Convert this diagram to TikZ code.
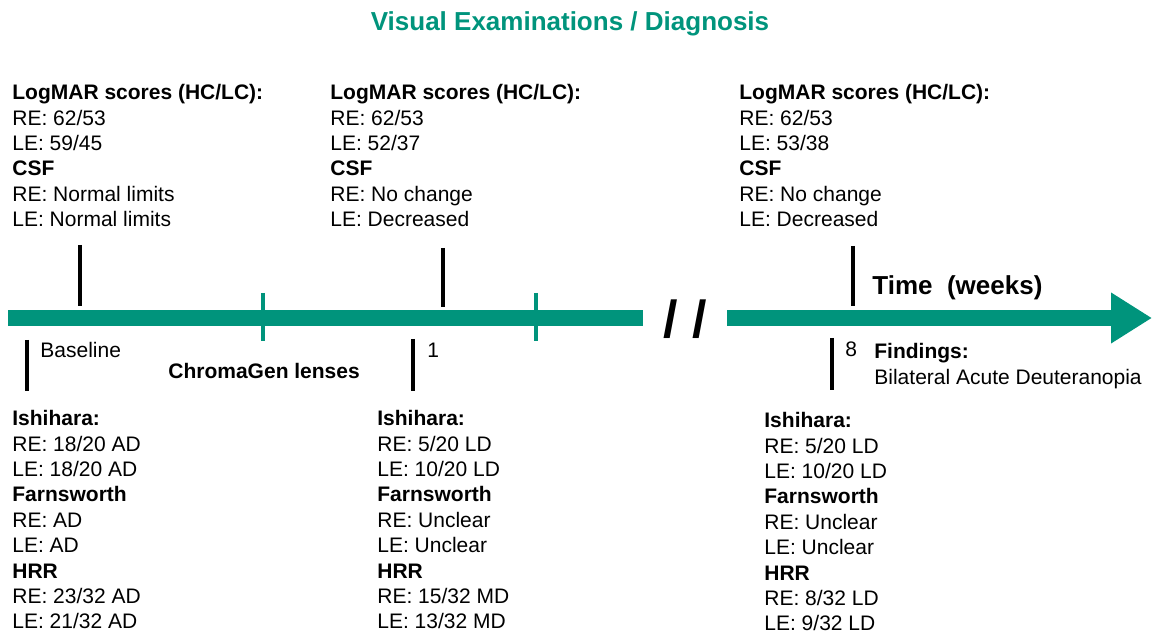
\documentclass[tikz,border=0pt]{standalone}
\usepackage{fontspec}
\setmainfont{Liberation Sans}
\usepackage{tikz}
\usetikzlibrary{positioning,arrows.meta}
\definecolor{barteal}{RGB}{0,148,124}

\begin{document}
\begin{tikzpicture}[x=0.5pt, y=-0.5pt,
txtblock/.style={anchor=north west, align=left, inner sep=0pt, font=\fontsize{10.5}{12.7}\selectfont},
smalllabel/.style={anchor=west, inner sep=0pt, font=\fontsize{10.5}{12.7}\selectfont},
blacktick/.style={draw=black, line width=2pt},
greentick/.style={draw=barteal, line width=1.6pt},
timebar/.style={draw=barteal, line width=8pt},
]
\useasboundingbox (0,0) rectangle (1152,635);

%Title
\node[anchor=base, text=barteal, font=\fontsize{13}{15}\selectfont\bfseries] (title) at (570,31) {Visual Examinations / Diagnosis};

%Timeline
\coordinate (barA) at (8,318);
\coordinate (barB) at (643,318);
\coordinate (barC) at (727,318);
\coordinate (barD) at (1152,318);
\draw[timebar] (barA) -- (barB);
\draw[timebar, -{Triangle[length=20.5pt, width=24pt]}] (barC) -- (barD);
\node[font=\fontsize{26}{30}\selectfont\bfseries] (gap) at (685,319) {/ /};
\node[anchor=base west, inner sep=0pt, font=\fontsize{13}{15}\selectfont\bfseries] (time) at (872,295) {Time~ (weeks)};

%Ticks
\draw[blacktick] (80,245) -- (80,306);
\draw[blacktick] (443,248) -- (443,307);
\draw[blacktick] (853,246) -- (853,306);
\draw[blacktick] (27,340) -- (27,391);
\draw[blacktick] (413,339) -- (413,391);
\draw[blacktick] (832,338) -- (832,390);
\draw[greentick] (263,293) -- (263,341);
\draw[greentick] (536,293) -- (536,341);

%Labels on the line
\node[smalllabel] (base) at (40,350) {Baseline};
\node[smalllabel] (wk1) at (427,350) {1};
\node[smalllabel] (wk8) at (845,349) {8};
\node[txtblock] (find) at (874,343) {\textbf{Findings:}\\ Bilateral Acute Deuteranopia};
\node[smalllabel, font=\fontsize{10.5}{12.7}\selectfont\bfseries] (lens) at (168,371) {ChromaGen lenses};

%Exams above
\node[txtblock] (topA) at (12,84) {\textbf{LogMAR scores (HC/LC):}\\ RE: 62/53\\ LE: 59/45\\ \textbf{CSF}\\ RE: Normal limits\\ LE: Normal limits};
\node[txtblock] (topB) at (330,84) {\textbf{LogMAR scores (HC/LC):}\\ RE: 62/53\\ LE: 52/37\\ \textbf{CSF}\\ RE: No change\\ LE: Decreased};
\node[txtblock] (topC) at (739,84) {\textbf{LogMAR scores (HC/LC):}\\ RE: 62/53\\ LE: 53/38\\ \textbf{CSF}\\ RE: No change\\ LE: Decreased};

%Exams below
\node[txtblock] (botA) at (12,410) {\textbf{Ishihara:}\\ RE: 18/20 AD\\ LE: 18/20 AD\\ \textbf{Farnsworth}\\ RE: AD\\ LE: AD\\ \textbf{HRR}\\ RE: 23/32 AD\\ LE: 21/32 AD};
\node[txtblock] (botB) at (377,410) {\textbf{Ishihara:}\\ RE: 5/20 LD\\ LE: 10/20 LD\\ \textbf{Farnsworth}\\ RE: Unclear\\ LE: Unclear\\ \textbf{HRR}\\ RE: 15/32 MD\\ LE: 13/32 MD};
\node[txtblock] (botC) at (764,412) {\textbf{Ishihara:}\\ RE: 5/20 LD\\ LE: 10/20 LD\\ \textbf{Farnsworth}\\ RE: Unclear\\ LE: Unclear\\ \textbf{HRR}\\ RE: 8/32 LD\\ LE: 9/32 LD};
\end{tikzpicture}
\end{document}
